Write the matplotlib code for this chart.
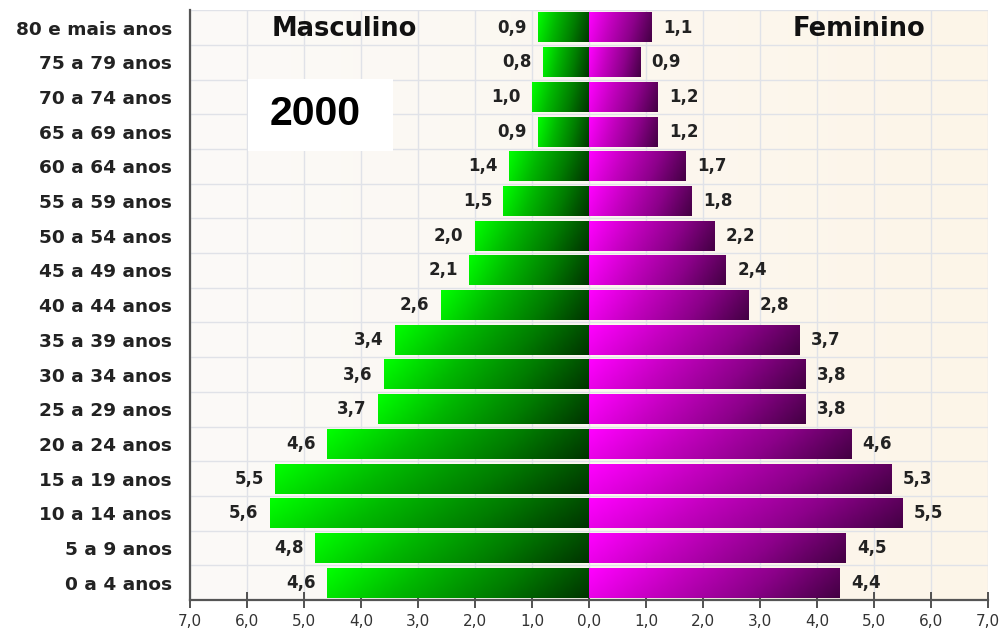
import numpy as np
import matplotlib
matplotlib.use("Agg")
import matplotlib.pyplot as plt
from matplotlib.colors import LinearSegmentedColormap
from matplotlib.patches import Rectangle

# dados: pirâmide etária 2000 (% da população)
faixas = ["80 e mais anos", "75 a 79 anos", "70 a 74 anos", "65 a 69 anos",
          "60 a 64 anos", "55 a 59 anos", "50 a 54 anos", "45 a 49 anos",
          "40 a 44 anos", "35 a 39 anos", "30 a 34 anos", "25 a 29 anos",
          "20 a 24 anos", "15 a 19 anos", "10 a 14 anos", "5 a 9 anos",
          "0 a 4 anos"]
masculino = [0.9, 0.8, 1.0, 0.9, 1.4, 1.5, 2.0, 2.1, 2.6, 3.4, 3.6, 3.7,
             4.6, 5.5, 5.6, 4.8, 4.6]
feminino = [1.1, 0.9, 1.2, 1.2, 1.7, 1.8, 2.2, 2.4, 2.8, 3.7, 3.8, 3.8,
            4.6, 5.3, 5.5, 4.5, 4.4]
ticks = np.arange(-7, 8)
ano = "2000"

cm_verde = LinearSegmentedColormap.from_list("verde", ["#00ff00", "#00b800", "#007c00", "#003400"])
cm_rosa = LinearSegmentedColormap.from_list("rosa", ["#ff00ff", "#c400c0", "#8c008a", "#440044"])

fig = plt.figure(figsize=(10.02, 6.37), dpi=100)
ax = fig.add_axes([0.1896, 0.058, 0.7964, 0.926])

# fundo em degradê
bg = LinearSegmentedColormap.from_list("bg", ["#fbfaf8", "#fdf5e8"])
ax.imshow(np.linspace(0, 1, 256).reshape(1, -1), cmap=bg, extent=(-7, 7, 16.5, -0.5),
          aspect="auto", zorder=0, interpolation="bilinear")

# grade
for k in np.arange(-0.5, 17, 1):
    ax.axhline(k, color="#e0e2e8", lw=1, zorder=1)
for t in ticks:
    ax.axvline(t, color="#e0e2e8", lw=1, zorder=1)

h = 0.86
u = np.linspace(0, 1, 128)
vv = np.linspace(0, 1, 16)
U, V = np.meshgrid(u, vv)

def barra(x0, x1, y, cmap):
    # degradê diagonal: claro embaixo/esquerda, escuro em cima/direita
    g = np.clip(0.88 * U + 0.12 * V, 0, 1)
    ax.imshow(g, cmap=cmap, vmin=0, vmax=1, extent=(x0, x1, y + h / 2, y - h / 2),
              aspect="auto", zorder=3, interpolation="bilinear")

for i, (m, f) in enumerate(zip(masculino, feminino)):
    barra(-m, 0, i, cm_verde)
    barra(0, f, i, cm_rosa)
    ax.text(-m - 0.2, i, f"{m:.1f}".replace(".", ","), ha="right", va="center",
            fontsize=12, fontweight="bold", color="#222222", zorder=5)
    ax.text(f + 0.2, i, f"{f:.1f}".replace(".", ","), ha="left", va="center",
            fontsize=12, fontweight="bold", color="#222222", zorder=5)

ax.set_xlim(-7, 7)
ax.set_ylim(16.5, -0.5)

ax.set_yticks(range(len(faixas)))
ax.set_yticklabels(faixas, fontsize=13.3, fontweight="bold", color="#222222")
ax.tick_params(axis="y", length=0, pad=13)
ax.set_xticks(ticks)
ax.set_xticklabels([f"{abs(t):.1f}".replace(".", ",") for t in ticks], fontsize=11, color="#333333")
ax.tick_params(axis="x", direction="inout", length=12, width=1.3, color="#444444", pad=4)

for s in ["top", "right"]:
    ax.spines[s].set_visible(False)
for s in ["left", "bottom"]:
    ax.spines[s].set_color("#555555")
    ax.spines[s].set_linewidth(1.6)
    ax.spines[s].set_zorder(6)

ax.text(-4.3, 0.05, "Masculino", ha="center", va="center", fontsize=18.5,
        fontweight="bold", color="#111111", zorder=5)
ax.text(4.74, 0.05, "Feminino", ha="center", va="center", fontsize=18.5,
        fontweight="bold", color="#111111", zorder=5)
ax.add_patch(Rectangle((-5.98, 1.49), 2.54, 2.07, fc="white", ec="none", zorder=4))
ax.text(-4.8, 2.5, ano, ha="center", va="center", fontsize=29.5, fontweight="bold",
        family="Liberation Sans", color="black", zorder=5)

fig.savefig("out.png", dpi=100)
